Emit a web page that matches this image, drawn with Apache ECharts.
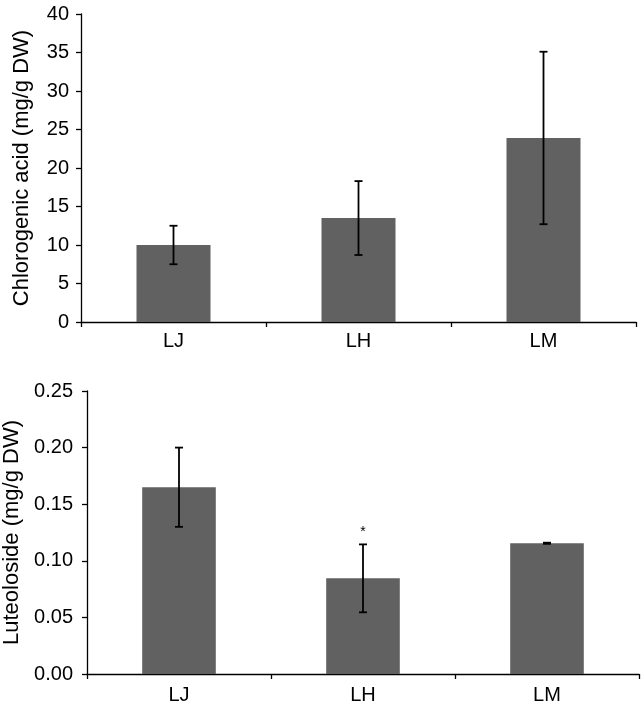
<!DOCTYPE html>
<html>
<head>
<meta charset="utf-8">
<script src="https://cdn.jsdelivr.net/npm/echarts@6/dist/echarts.min.js"></script>
<style>
html,body{margin:0;padding:0;background:#fff;}
#chart{width:642px;height:708px;}
</style>
</head>
<body>
<div id="chart"></div>
<script>
const categories = ['LJ', 'LH', 'LM'];
const chlorogenicMean = [10.0, 13.5, 23.9];
const chlorogenicErr = [2.5, 4.8, 11.2];
const luteolosideMean = [0.165, 0.0845, 0.1155];
const luteolosideErr = [0.035, 0.030, 0.0005];
const luteolosideMarks = ['', '*', ''];
const chlorogenicTicks = {min: 0, max: 40, interval: 5};
const luteolosideTicks = {min: 0, max: 0.25, interval: 0.05};

const FONT = 'Liberation Sans, Arial, sans-serif';
const BAR_COLOR = '#616161';

function errData(means, errs) {
  return means.map((m, i) => [i, m - errs[i], m + errs[i]]);
}

function makeErrRender(marks) {
  return function (params, api) {
    const i = api.value(0);
    const lo = api.coord([i, api.value(1)]);
    const hi = api.coord([i, api.value(2)]);
    const half = 4;
    const style = {stroke: '#000', lineWidth: 1.8};
    const children = [
      {type: 'line', shape: {x1: hi[0], y1: hi[1], x2: lo[0], y2: lo[1]}, style},
      {type: 'line', shape: {x1: hi[0] - half, y1: hi[1], x2: hi[0] + half, y2: hi[1]}, style},
      {type: 'line', shape: {x1: lo[0] - half, y1: lo[1], x2: lo[0] + half, y2: lo[1]}, style}
    ];
    if (marks && marks[i]) {
      children.push({
        type: 'text',
        style: {text: marks[i], x: hi[0], y: hi[1] - 12, align: 'center', verticalAlign: 'middle',
                font: '14px ' + FONT, fill: '#000'}
      });
    }
    return {type: 'group', children};
  };
}

const axisCommon = {
  axisLine: {show: true, lineStyle: {color: '#000', width: 1.3}},
  axisTick: {show: true, length: 5, lineStyle: {color: '#000', width: 1.3}},
  splitLine: {show: false}
};

const option = {
  animation: false,
  backgroundColor: '#fff',
  textStyle: {fontFamily: FONT},
  grid: [
    {left: 81, top: 14, width: 555, height: 308, containLabel: false, outerBoundsMode: 'none'},
    {left: 87, top: 391, width: 552, height: 283, containLabel: false, outerBoundsMode: 'none'}
  ],
  xAxis: [0, 1].map(g => Object.assign({}, axisCommon, {
    type: 'category', gridIndex: g, data: categories, boundaryGap: true,
    axisTick: {show: true, length: 5, alignWithLabel: false, lineStyle: {color: '#000', width: 1.3}},
    axisLabel: {color: '#000', fontSize: 20, fontFamily: FONT, margin: g === 0 ? 9 : 11}
  })),
  yAxis: [
    Object.assign({}, axisCommon, {
      type: 'value', gridIndex: 0,
      min: chlorogenicTicks.min, max: chlorogenicTicks.max, interval: chlorogenicTicks.interval,
      name: 'Chlorogenic acid (mg/g DW)', nameLocation: 'middle', nameGap: 48,
      nameTextStyle: {color: '#000', fontSize: 22, fontFamily: FONT},
      axisLabel: {color: '#000', fontSize: 20, fontFamily: FONT, margin: 12}
    }),
    Object.assign({}, axisCommon, {
      type: 'value', gridIndex: 1,
      min: luteolosideTicks.min, max: luteolosideTicks.max, interval: luteolosideTicks.interval,
      name: 'Luteoloside (mg/g DW)', nameLocation: 'middle', nameGap: 63,
      nameTextStyle: {color: '#000', fontSize: 22, fontFamily: FONT},
      axisLabel: {color: '#000', fontSize: 20, fontFamily: FONT, margin: 14, formatter: v => v.toFixed(2)}
    })
  ],
  series: [
    {type: 'bar', xAxisIndex: 0, yAxisIndex: 0, data: chlorogenicMean, barWidth: '40%',
     itemStyle: {color: BAR_COLOR}},
    {type: 'custom', xAxisIndex: 0, yAxisIndex: 0, data: errData(chlorogenicMean, chlorogenicErr),
     renderItem: makeErrRender(null), z: 10},
    {type: 'bar', xAxisIndex: 1, yAxisIndex: 1, data: luteolosideMean, barWidth: '40%',
     itemStyle: {color: BAR_COLOR}},
    {type: 'custom', xAxisIndex: 1, yAxisIndex: 1, data: errData(luteolosideMean, luteolosideErr),
     renderItem: makeErrRender(luteolosideMarks), z: 10}
  ]
};

const chart = echarts.init(document.getElementById('chart'), null, {renderer: 'canvas'});
chart.setOption(option);
</script>
</body>
</html>
